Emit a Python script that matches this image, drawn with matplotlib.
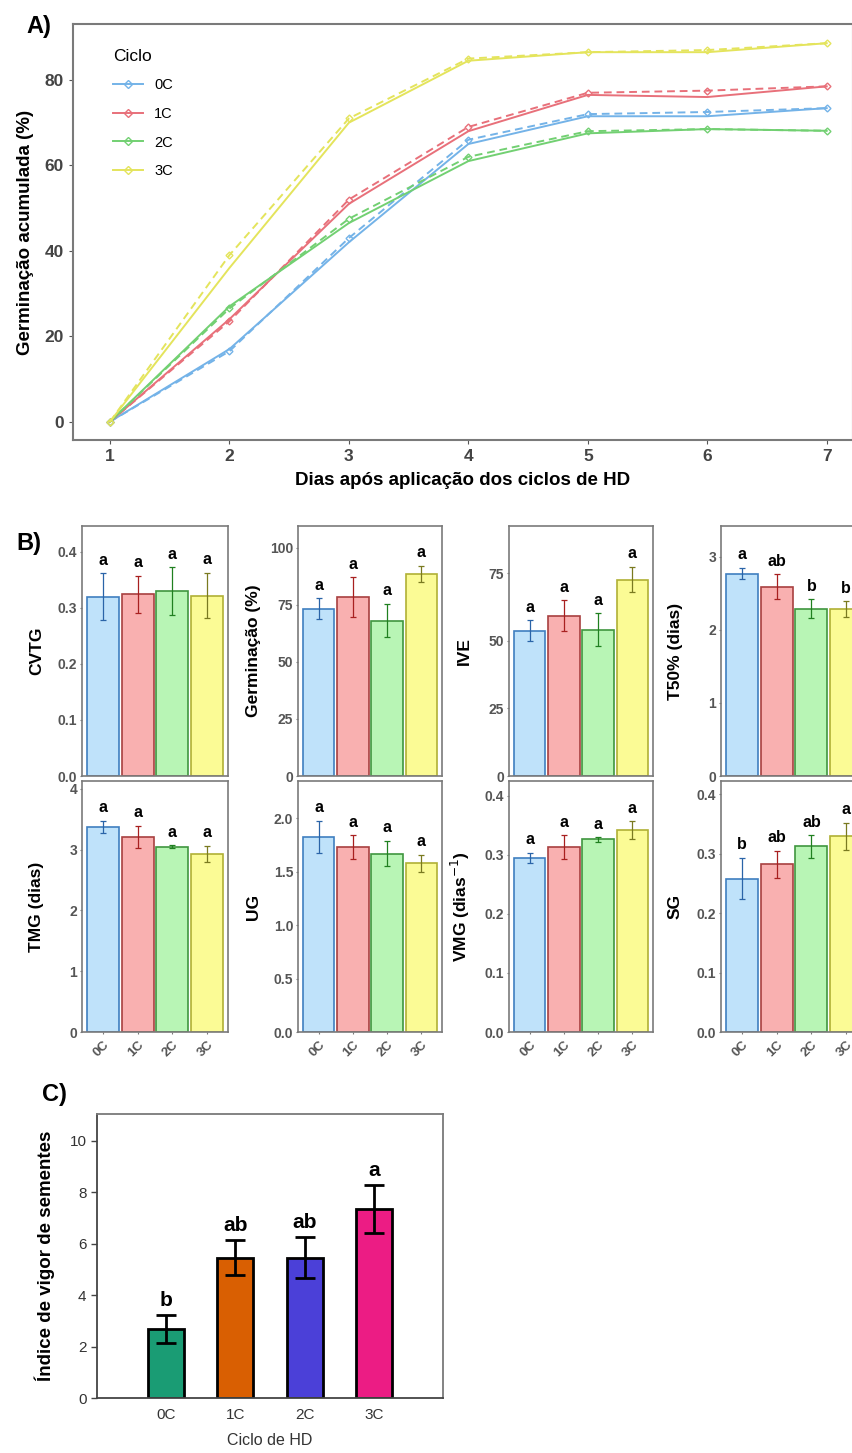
import numpy as np
import matplotlib
matplotlib.use('Agg')
import matplotlib.pyplot as plt
from matplotlib.lines import Line2D

plt.rcParams['font.family'] = ['Liberation Sans', 'DejaVu Sans']

# ---------------- data ----------------
dias = [1, 2, 3, 4, 5, 6, 7]
ciclos = ['0C', '1C', '2C', '3C']

# panel A: germinação acumulada (observado = linha cheia, ajustado = tracejada)
obs_0c = [0, 17, 42, 65, 71.5, 71.5, 73.4]
obs_1c = [0, 24, 51, 68, 76.5, 76, 78.5]
obs_2c = [0, 27, 46.5, 61, 67.5, 68.5, 68.1]
obs_3c = [0, 36, 70, 84.5, 86.5, 86.5, 88.6]
fit_0c = [0, 16.5, 43, 66, 72, 72.5, 73.4]
fit_1c = [0, 23.5, 52, 69, 77, 77.5, 78.5]
fit_2c = [0, 26.5, 47.5, 62, 68, 68.5, 68.1]
fit_3c = [0, 39, 71, 85, 86.5, 87, 88.6]

# panel B: médias, erros e letras
cvtg_mean = [0.320, 0.324, 0.330, 0.322]
cvtg_se = [0.042, 0.033, 0.042, 0.041]
cvtg_let = ['a', 'a', 'a', 'a']
germ_mean = [73.4, 78.5, 68.1, 88.6]
germ_se = [4.5, 8.6, 7.3, 3.5]
germ_let = ['a', 'a', 'a', 'a']
ive_mean = [53.7, 59.3, 54.1, 72.6]
ive_se = [3.8, 5.7, 6.0, 4.7]
ive_let = ['a', 'a', 'a', 'a']
t50_mean = [2.77, 2.59, 2.29, 2.28]
t50_se = [0.08, 0.17, 0.13, 0.11]
t50_let = ['a', 'ab', 'b', 'b']
tmg_mean = [3.38, 3.21, 3.05, 2.93]
tmg_se = [0.10, 0.18, 0.02, 0.13]
tmg_let = ['a', 'a', 'a', 'a']
ug_mean = [1.83, 1.73, 1.67, 1.58]
ug_se = [0.15, 0.11, 0.12, 0.08]
ug_let = ['a', 'a', 'a', 'a']
vmg_mean = [0.295, 0.313, 0.326, 0.342]
vmg_se = [0.008, 0.020, 0.004, 0.015]
vmg_let = ['a', 'a', 'a', 'a']
sg_mean = [0.258, 0.282, 0.312, 0.329]
sg_se = [0.035, 0.023, 0.019, 0.023]
sg_let = ['b', 'ab', 'ab', 'a']

# panel C: índice de vigor
ivs_mean = [2.68, 5.46, 5.46, 7.35]
ivs_se = [0.54, 0.67, 0.79, 0.92]
ivs_let = ['b', 'ab', 'ab', 'a']

# ---------------- styles ----------------
line_cols = ['#74b3e8', '#e8707a', '#72d072', '#e4e45c']
fill_cols = ['#bfe2fa', '#f9b0b0', '#b8f5b5', '#fbfb95']
edge_cols = ['#3f7fc0', '#a84040', '#3f963f', '#b0b035']
err_cols = ['#2a64a8', '#a82020', '#208020', '#7a7a20']
c_cols = ['#1a9c74', '#d95f02', '#4b40d8', '#ec1c84']
spine_col = '#7a7a7a'
tick_col = '#555555'

W, H = 853, 1453
fig = plt.figure(figsize=(W / 100, H / 100), dpi=100)


def box(l, t, r, b):
    return [l / W, 1 - b / H, (r - l) / W, (b - t) / H]


# ---------------- panel A ----------------
axA = fig.add_axes(box(73, 24, 853, 440))
obs = [obs_0c, obs_1c, obs_2c, obs_3c]
fit = [fit_0c, fit_1c, fit_2c, fit_3c]
for i, c in enumerate(ciclos):
    axA.plot(dias, obs[i], color=line_cols[i], lw=1.4, ls='-')
    axA.plot(dias, fit[i], color=line_cols[i], lw=1.4, ls=(0, (4, 2.5)),
             marker='D', ms=3.5, mfc='none', mec=line_cols[i], mew=1)
axA.set_xlim(0.69, 7.22)
axA.set_ylim(-4.3, 93.1)
axA.set_xticks(dias)
axA.set_yticks([0, 20, 40, 60, 80])
axA.tick_params(labelsize=12.5, colors=tick_col, length=3, labelcolor='#444444')
for lab in axA.get_xticklabels() + axA.get_yticklabels():
    lab.set_fontweight('bold')
for s in axA.spines.values():
    s.set_color(spine_col)
    s.set_linewidth(1.5)
axA.set_ylabel('Germinação acumulada (%)', fontsize=13.5, fontweight='bold')
axA.yaxis.set_label_coords(-0.05, 0.5)
axA.set_xlabel('Dias após aplicação dos ciclos de HD', fontsize=13.5,
               fontweight='bold', labelpad=6)
handles = [Line2D([], [], color=line_cols[i], lw=1.4, marker='D', ms=4.5,
                  mfc='none', mec=line_cols[i]) for i in range(4)]
leg = axA.legend(handles, ciclos, title='Ciclo', loc='upper left',
                 bbox_to_anchor=(0.035, 0.972), frameon=False, fontsize=10.5,
                 title_fontsize=12.5, handlelength=2.0, labelspacing=1.0,
                 alignment='left')

# ---------------- panel B ----------------
cols_x = [(82, 228), (298, 442), (509, 653), (721, 867)]
rows_y = [(526, 776), (781, 1032)]
panels = [
    (cvtg_mean, cvtg_se, cvtg_let, 'CVTG', 0.446, [0, 0.1, 0.2, 0.3, 0.4], '{:.1f}'),
    (germ_mean, germ_se, germ_let, 'Germinação (%)', 109.6, [0, 25, 50, 75, 100], '{:.0f}'),
    (ive_mean, ive_se, ive_let, 'IVE', 92.4, [0, 25, 50, 75], '{:.0f}'),
    (t50_mean, t50_se, t50_let, 'T50% (dias)', 3.42, [0, 1, 2, 3], '{:.0f}'),
    (tmg_mean, tmg_se, tmg_let, 'TMG (dias)', 4.13, [0, 1, 2, 3, 4], '{:.0f}'),
    (ug_mean, ug_se, ug_let, 'UG', 2.35, [0, 0.5, 1.0, 1.5, 2.0], '{:.1f}'),
    (vmg_mean, vmg_se, vmg_let, 'VMG (dias$^{-1}$)', 0.425, [0, 0.1, 0.2, 0.3, 0.4], '{:.1f}'),
    (sg_mean, sg_se, sg_let, 'SG', 0.422, [0, 0.1, 0.2, 0.3, 0.4], '{:.1f}'),
]
xpos = np.arange(1, 5)
for k, (m, se, let, lab, ymax, yt, fmt) in enumerate(panels):
    r, c = divmod(k, 4)
    l, rr = cols_x[c]
    t, b = rows_y[r]
    ax = fig.add_axes(box(l, t, rr, b))
    ax.bar(xpos, m, width=0.92, color=fill_cols, edgecolor=edge_cols, lw=1.2)
    for i in range(4):
        ax.errorbar(xpos[i], m[i], yerr=se[i], color=err_cols[i], lw=0.9,
                    capsize=2.5, capthick=0.9, fmt='none')
        ax.annotate(let[i], (xpos[i], m[i] + se[i]), xytext=(0, 4),
                    textcoords='offset points', ha='center', va='bottom',
                    fontsize=11.5, fontweight='bold')
    ax.set_xlim(0.4, 4.6)
    ax.set_ylim(0, ymax)
    ax.set_yticks(yt)
    ax.set_yticklabels([fmt.format(v) for v in yt])
    ax.tick_params(axis='y', labelsize=10, labelcolor=tick_col, length=1.5,
                   colors=spine_col, pad=2)
    for tl in ax.get_yticklabels():
        tl.set_fontweight('bold')
    ax.set_xticks(xpos)
    if r == 1:
        ax.set_xticklabels(ciclos, rotation=45, ha='right',
                           rotation_mode='anchor', fontsize=9.5,
                           color=tick_col, fontweight='bold')
        ax.tick_params(axis='x', length=1.5, colors=spine_col, labelcolor=tick_col)
    else:
        ax.set_xticklabels([])
        ax.tick_params(axis='x', length=0)
    for s in ax.spines.values():
        s.set_color(spine_col)
        s.set_linewidth(1.2)
    ax.set_ylabel(lab, fontsize=12.5, fontweight='bold')
    ax.yaxis.set_label_coords(-0.26, 0.5)

# ---------------- panel C ----------------
axC = fig.add_axes(box(97, 1114, 443, 1398))
axC.bar(xpos, ivs_mean, width=0.52, color=c_cols, edgecolor='black', lw=2)
axC.errorbar(xpos, ivs_mean, yerr=ivs_se, fmt='none', ecolor='black',
             elinewidth=2, capsize=7, capthick=2)
for i in range(4):
    axC.annotate(ivs_let[i], (xpos[i], ivs_mean[i] + ivs_se[i]), xytext=(0, 4),
                 textcoords='offset points', ha='center', va='bottom',
                 fontsize=15, fontweight='bold')
axC.set_xlim(0, 5)
axC.set_ylim(0, 11.05)
axC.set_yticks([0, 2, 4, 6, 8, 10])
axC.set_xticks(xpos)
axC.set_xticklabels(ciclos)
axC.tick_params(axis='y', labelsize=11, labelcolor='#333333', length=4,
                colors='#444444', width=1)
axC.tick_params(axis='x', labelsize=11, labelcolor='#333333', length=0, pad=7)
for s in axC.spines.values():
    s.set_color(spine_col)
    s.set_linewidth(1.3)
axC.spines['left'].set_color('#444444')
axC.spines['bottom'].set_color('#444444')
axC.set_ylabel('Índice de vigor de sementes', fontsize=13.5, fontweight='bold')
axC.yaxis.set_label_coords(-0.12, 0.5)
axC.set_xlabel('Ciclo de HD', fontsize=11.5, color='#333333', labelpad=8)

# ---------------- panel tags ----------------
fig.text(39 / W, 1 - 26 / H, 'A)', fontsize=17, fontweight='bold', ha='center', va='center')
fig.text(29 / W, 1 - 544 / H, 'B)', fontsize=17, fontweight='bold', ha='center', va='center')
fig.text(54 / W, 1 - 1094 / H, 'C)', fontsize=17, fontweight='bold', ha='center', va='center')

fig.savefig('out.png', dpi=100)
